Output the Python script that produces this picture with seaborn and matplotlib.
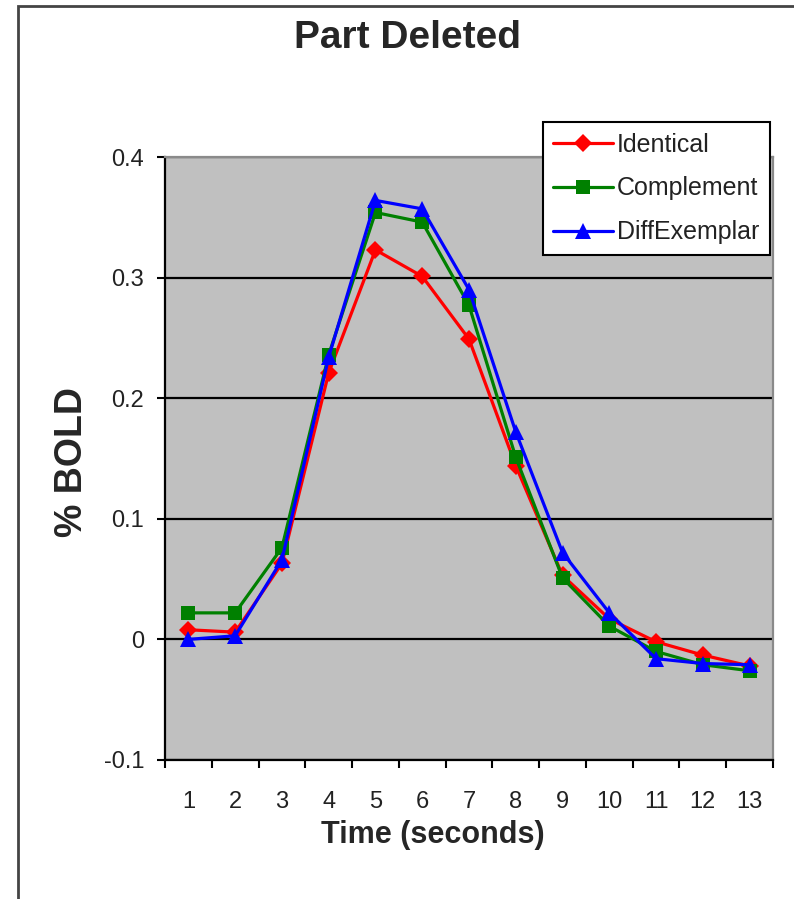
import matplotlib
matplotlib.use("Agg")
import matplotlib.pyplot as plt
from matplotlib.patches import Rectangle
import seaborn as sns
import pandas as pd

time = [1, 2, 3, 4, 5, 6, 7, 8, 9, 10, 11, 12, 13]
identical = [0.008, 0.006, 0.063, 0.221, 0.323, 0.301, 0.249, 0.144, 0.053, 0.017, -0.002, -0.013, -0.022]
complement = [0.022, 0.022, 0.076, 0.236, 0.354, 0.346, 0.277, 0.151, 0.051, 0.011, -0.010, -0.021, -0.026]
diffexemplar = [0.000, 0.003, 0.066, 0.234, 0.364, 0.357, 0.290, 0.172, 0.072, 0.022, -0.016, -0.020, -0.021]
series_names = ["Identical", "Complement", "DiffExemplar"]
yticks = [-0.1, 0, 0.1, 0.2, 0.3, 0.4]
ytick_labels = ["-0.1", "0", "0.1", "0.2", "0.3", "0.4"]

sns.set_theme(style="white")
plt.rcParams["font.family"] = ["Liberation Sans", "DejaVu Sans"]

W, H = 794, 899
fig = plt.figure(figsize=(W / 100, H / 100), dpi=100)
fig.patch.set_facecolor("white")

left, right, top, bottom = 165, 773, 157, 760
ax = fig.add_axes([left / W, 1 - bottom / H, (right - left) / W, (bottom - top) / H])
ax.set_facecolor("#C0C0C0")

df = pd.DataFrame({
    "Time": time * 3,
    "BOLD": identical + complement + diffexemplar,
    "Series": [s for s in series_names for _ in time],
})

styles = {
    "Identical": dict(color="#FF0000", marker="D", markersize=9.5),
    "Complement": dict(color="#008000", marker="s", markersize=10.5),
    "DiffExemplar": dict(color="#0000FF", marker="^", markersize=11.5),
}
for name in series_names:
    st = styles[name]
    sns.lineplot(data=df[df["Series"] == name], x="Time", y="BOLD", ax=ax,
                 color=st["color"], marker=st["marker"], markersize=st["markersize"],
                 markeredgewidth=0, linewidth=2.3, label=name, zorder=3)

ax.set_xlim(0.5, 13.5)
ax.set_ylim(-0.1, 0.4)
ax.set_yticks(yticks)
ax.set_yticklabels(ytick_labels)
ax.set_xticks(time)
ax.set_xticklabels([str(t) for t in time])
ax.set_xticks([t - 0.5 for t in time] + [13.5], minor=True)

ax.yaxis.grid(True, color="black", linewidth=1.6)
ax.xaxis.grid(False)
ax.set_axisbelow(True)

ax.tick_params(axis="y", which="major", direction="out", length=6, width=1.5,
               color="black", pad=9, labelsize=17, labelcolor="#222222", left=True)
ax.tick_params(axis="x", which="major", length=0, pad=22, labelsize=17, labelcolor="#222222")
ax.tick_params(axis="x", which="minor", direction="out", length=6, width=1.5,
               color="black", bottom=True)

for s in ["left", "bottom"]:
    ax.spines[s].set_color("black")
    ax.spines[s].set_linewidth(1.6)
for s in ["top", "right"]:
    ax.spines[s].set_color("#8a8a8a")
    ax.spines[s].set_linewidth(1.6)

ax.set_xlabel("Time (seconds)", fontsize=22, fontweight="bold")
ax.xaxis.set_label_coords((433 - left) / (right - left), -0.100)
ax.set_ylabel("% BOLD", fontsize=27, fontweight="bold")
ax.yaxis.set_label_coords(-0.1235, (bottom - 462) / (bottom - top))

fig.text(408 / W, 1 - 38 / H, "Part Deleted", fontsize=28, fontweight="bold",
         ha="center", va="center")

leg = ax.legend(loc="upper right", bbox_to_anchor=(770 / W, 1 - 122 / H),
                bbox_transform=fig.transFigure, borderaxespad=0, fontsize=18,
                frameon=True, fancybox=False, shadow=False, framealpha=1,
                edgecolor="black", facecolor="white", handlelength=2.4,
                handletextpad=0.15, labelspacing=0.8, borderpad=0.42)
leg.get_frame().set_linewidth(1.5)
for t in leg.get_texts():
    t.set_color("#222222")

fig.add_artist(Rectangle((18 / W, -0.1), 2.0, 1.1 - 6 / H, transform=fig.transFigure,
                         fill=False, edgecolor="#444444", linewidth=2.0, clip_on=False))

fig.savefig("out.png", dpi=100)
